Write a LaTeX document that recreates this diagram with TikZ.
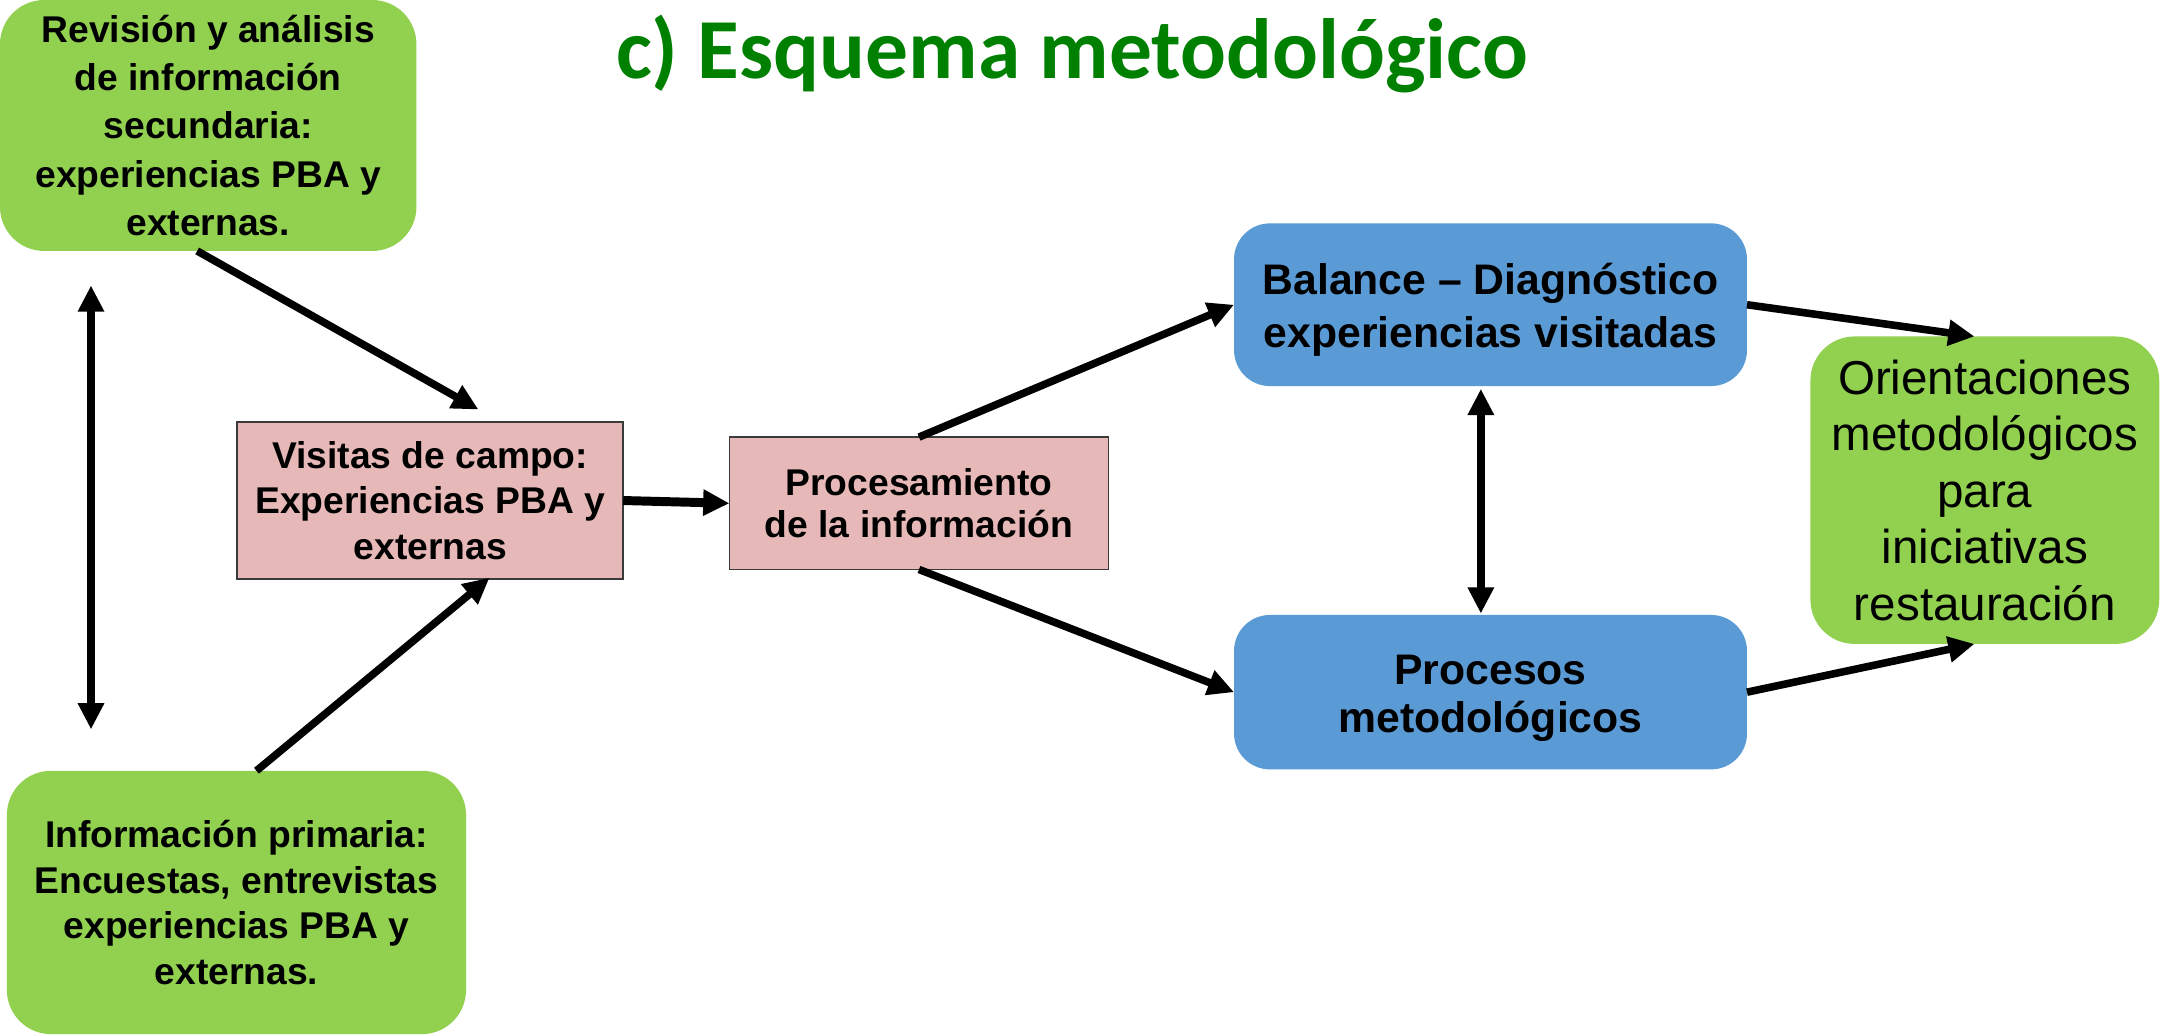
\documentclass[tikz,border=0pt]{standalone}
\usepackage{fontspec}
\setmainfont{Liberation Sans}
\newfontfamily\titlefont{Carlito}
\usetikzlibrary{arrows.meta}
\definecolor{boxgreen}{HTML}{92D050}
\definecolor{boxblue}{HTML}{5B9BD5}
\definecolor{boxpink}{HTML}{E6B8B7}
\definecolor{titlegreen}{HTML}{008000}
\definecolor{pinkedge}{HTML}{3A3A3A}
\newcommand{\lowered}[2]{\raisebox{-#1}[\height][\depth]{\begin{tabular}{@{}c@{}}#2\end{tabular}}}
\tikzset{
  basebox/.style={inner sep=0pt, outer sep=0pt, align=center, text=black},
  greenbox/.style={basebox, fill=boxgreen, rounded corners=32pt},
  bluebox/.style={basebox, fill=boxblue, rounded corners=26pt},
  pinkbox/.style={basebox, fill=boxpink, draw=pinkedge, line width=1.3pt},
  conn/.style={line width=5.5pt, -{Triangle[length=19pt,width=18pt]}},
  biconn/.style={line width=5.5pt, {Triangle[length=19pt,width=18pt]}-{Triangle[length=19pt,width=18pt]}},
}
\begin{document}
\begin{tikzpicture}[x=1pt,y=-1pt]
\useasboundingbox (0,0) rectangle (1568,750);

\node[anchor=base, text=titlegreen, font=\titlefont\bfseries\fontsize{62}{70}\selectfont] (title) at (777.5,57) {c) Esquema metodológico};

\node[greenbox, minimum width=302pt, minimum height=182pt,
      font=\bfseries\fontsize{27}{35}\selectfont] (A) at (151,91)
  {Revisión y análisis\\de información\\secundaria:\\experiencias PBA y\\externas.};

\node[pinkbox, minimum width=280pt, minimum height=114pt,
      font=\bfseries\fontsize{27}{33}\selectfont] (B) at (312,363)
  {Visitas de campo:\\Experiencias PBA y\\externas};

\node[pinkbox, minimum width=275pt, minimum height=96pt,
      font=\bfseries\fontsize{27}{31}\selectfont] (C) at (666.5,365)
  {Procesamiento\\de la información};

\node[bluebox, minimum width=372pt, minimum height=118pt,
      font=\bfseries\fontsize{31}{39}\selectfont] (D) at (1081,221)
  {\lowered{4pt}{Balance -- Diagnóstico\\experiencias visitadas}};

\node[bluebox, minimum width=372pt, minimum height=112pt,
      font=\bfseries\fontsize{31}{35}\selectfont] (E) at (1081,502)
  {\lowered{5pt}{Procesos\\metodológicos}};

\node[greenbox, minimum width=253pt, minimum height=223pt,
      font=\fontsize{34.5}{41}\selectfont] (F) at (1439.5,355.5)
  {Orientaciones\\metodológicos\\para\\iniciativas\\restauración};

\node[greenbox, minimum width=333pt, minimum height=191pt,
      font=\bfseries\fontsize{27}{33}\selectfont] (G) at (171.5,654.5)
  {Información primaria:\\Encuestas, entrevistas\\experiencias PBA y\\externas.};

% connectors
\draw[conn] ([xshift=-8pt]A.south) -- ([xshift=35pt,yshift=9pt]B.north);
\draw[conn] ([xshift=14.5pt]G.north) -- ([xshift=43pt,yshift=1pt]B.south);
\draw[biconn] ([xshift=-85pt,yshift=-25pt]A.south) -- ([xshift=-105.5pt,yshift=30pt]G.north);
\draw[conn, line width=6.5pt] (B.east) -- (C.west);
\draw[conn] (C.north) -- (D.west);
\draw[conn] (C.south) -- (E.west);
\draw[biconn] ([xshift=-7pt,yshift=-2pt]D.south) -- ([xshift=-7pt,yshift=1pt]E.north);
\draw[conn] (D.east) -- ([xshift=-7.5pt]F.north);
\draw[conn] (E.east) -- ([xshift=-7.5pt]F.south);
\end{tikzpicture}
\end{document}
